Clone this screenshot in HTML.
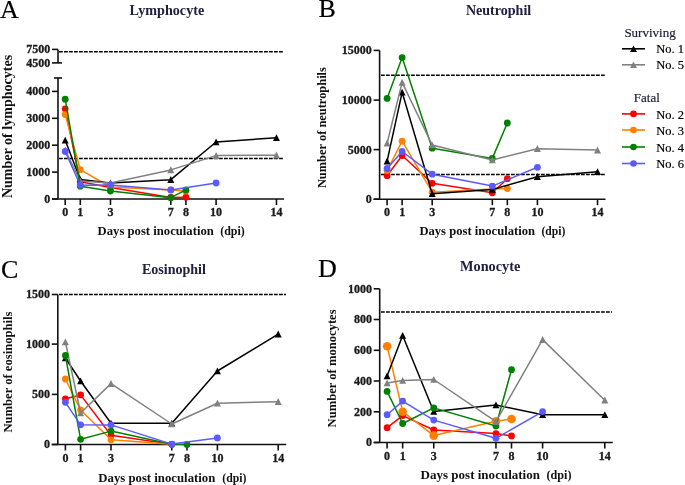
<!DOCTYPE html>
<html><head><meta charset="utf-8"><style>
html,body{margin:0;padding:0;background:#fff;width:685px;height:485px;overflow:hidden}
svg{display:block;will-change:transform}
.ax{stroke:#111;stroke-width:1.6;fill:none}
.da{stroke:#000;stroke-width:1.45;stroke-dasharray:3.8 1.2;fill:none}
.dl{stroke-width:1.5;stroke-linejoin:round}
text{font-family:"Liberation Serif",serif}
.tk{font-weight:bold;font-size:12px;fill:#1a1a1a;stroke:#1a1a1a;stroke-width:0.3px}
.ti{font-weight:bold;font-size:14px;fill:#202040}
.pl{font-size:26px;fill:#000;stroke:#000;stroke-width:0.2px}
.xl{font-weight:bold;font-size:13.3px;fill:#111}
.yl{font-weight:bold;font-size:12.6px;fill:#111}
.lg{font-size:12.5px;stroke-width:0.2px}
</style></head><body>
<svg width="685" height="485" viewBox="0 0 685 485">
<line x1="52" y1="199" x2="284" y2="199" class="ax"/>
<line x1="65.2" y1="199" x2="65.2" y2="205" class="ax"/>
<line x1="80.29" y1="199" x2="80.29" y2="205" class="ax"/>
<line x1="110.47" y1="199" x2="110.47" y2="205" class="ax"/>
<line x1="170.83" y1="199" x2="170.83" y2="205" class="ax"/>
<line x1="185.92" y1="199" x2="185.92" y2="205" class="ax"/>
<line x1="216.1" y1="199" x2="216.1" y2="205" class="ax"/>
<line x1="276.46" y1="199" x2="276.46" y2="205" class="ax"/>
<line x1="58" y1="78" x2="58" y2="199" class="ax"/>
<line x1="52" y1="199" x2="58" y2="199" class="ax"/>
<text x="50.2" y="202.9" class="tk" text-anchor="end">0</text>
<line x1="52" y1="172.1" x2="58" y2="172.1" class="ax"/>
<text x="50.2" y="176" class="tk" text-anchor="end">1000</text>
<line x1="52" y1="145.2" x2="58" y2="145.2" class="ax"/>
<text x="50.2" y="149.1" class="tk" text-anchor="end">2000</text>
<line x1="52" y1="118.3" x2="58" y2="118.3" class="ax"/>
<text x="50.2" y="122.2" class="tk" text-anchor="end">3000</text>
<line x1="52" y1="91.4" x2="58" y2="91.4" class="ax"/>
<text x="50.2" y="95.3" class="tk" text-anchor="end">4000</text>
<line x1="54" y1="78" x2="62" y2="78" class="ax"/>
<line x1="58" y1="49.4" x2="58" y2="62.9" class="ax"/>
<line x1="52" y1="49.4" x2="58" y2="49.4" class="ax"/>
<line x1="52" y1="62.9" x2="62" y2="62.9" class="ax"/>
<text x="50.2" y="53.3" class="tk" text-anchor="end">7500</text>
<text x="50.2" y="66.8" class="tk" text-anchor="end">4500</text>
<line x1="59" y1="51.7" x2="283" y2="51.7" class="da"/>
<line x1="59" y1="158.4" x2="283" y2="158.4" class="da"/>
<text x="65.2" y="215.7" class="tk" text-anchor="middle">0</text>
<text x="80.29" y="215.7" class="tk" text-anchor="middle">1</text>
<text x="110.47" y="215.7" class="tk" text-anchor="middle">3</text>
<text x="170.83" y="215.7" class="tk" text-anchor="middle">7</text>
<text x="185.92" y="215.7" class="tk" text-anchor="middle">8</text>
<text x="216.1" y="215.7" class="tk" text-anchor="middle">10</text>
<text x="276.46" y="215.7" class="tk" text-anchor="middle">14</text>
<polyline points="65.2,108.8 80.29,181.8 110.47,187.6 170.83,197.5 185.92,197.2" fill="none" stroke="#ff0000" class="dl"/>
<circle cx="65.2" cy="108.8" r="3.4" fill="#ff0000"/>
<circle cx="80.29" cy="181.8" r="3.4" fill="#ff0000"/>
<circle cx="110.47" cy="187.6" r="3.4" fill="#ff0000"/>
<circle cx="170.83" cy="197.5" r="3.4" fill="#ff0000"/>
<circle cx="185.92" cy="197.2" r="3.4" fill="#ff0000"/>
<polyline points="65.2,114.6 80.29,169.7 110.47,187 170.83,190 185.92,191" fill="none" stroke="#ff8000" class="dl"/>
<circle cx="65.2" cy="114.6" r="3.4" fill="#ff8000"/>
<circle cx="80.29" cy="169.7" r="3.4" fill="#ff8000"/>
<circle cx="110.47" cy="187" r="3.4" fill="#ff8000"/>
<circle cx="170.83" cy="190" r="3.4" fill="#ff8000"/>
<circle cx="185.92" cy="191" r="3.4" fill="#ff8000"/>
<polyline points="65.2,140.3 80.29,179.5 110.47,183 170.83,179.7 216.1,142 276.46,137.8" fill="none" stroke="#000000" class="dl"/>
<path d="M65.2 136.7L68.7 143.6L61.7 143.6Z" fill="#000000"/>
<path d="M80.29 175.9L83.79 182.8L76.79 182.8Z" fill="#000000"/>
<path d="M110.47 179.4L113.97 186.3L106.97 186.3Z" fill="#000000"/>
<path d="M170.83 176.1L174.33 183L167.33 183Z" fill="#000000"/>
<path d="M216.1 138.4L219.6 145.3L212.6 145.3Z" fill="#000000"/>
<path d="M276.46 134.2L279.96 141.1L272.96 141.1Z" fill="#000000"/>
<polyline points="65.2,150 80.29,181 110.47,183 170.83,169.9 216.1,155.6 276.46,155.2" fill="none" stroke="#808080" class="dl"/>
<path d="M65.2 146.4L68.7 153.3L61.7 153.3Z" fill="#808080"/>
<path d="M80.29 177.4L83.79 184.3L76.79 184.3Z" fill="#808080"/>
<path d="M110.47 179.4L113.97 186.3L106.97 186.3Z" fill="#808080"/>
<path d="M170.83 166.3L174.33 173.2L167.33 173.2Z" fill="#808080"/>
<path d="M216.1 152L219.6 158.9L212.6 158.9Z" fill="#808080"/>
<path d="M276.46 151.6L279.96 158.5L272.96 158.5Z" fill="#808080"/>
<polyline points="65.2,99.2 80.29,186.2 110.47,191 170.83,197.7 185.92,189.9" fill="none" stroke="#008000" class="dl"/>
<circle cx="65.2" cy="99.2" r="3.4" fill="#008000"/>
<circle cx="80.29" cy="186.2" r="3.4" fill="#008000"/>
<circle cx="110.47" cy="191" r="3.4" fill="#008000"/>
<circle cx="170.83" cy="197.7" r="3.4" fill="#008000"/>
<circle cx="185.92" cy="189.9" r="3.4" fill="#008000"/>
<polyline points="65.2,151.5 80.29,185.2 110.47,184.9 170.83,189.9 216.1,183" fill="none" stroke="#5a5aff" class="dl"/>
<circle cx="65.2" cy="151.5" r="3.4" fill="#5a5aff"/>
<circle cx="80.29" cy="185.2" r="3.4" fill="#5a5aff"/>
<circle cx="110.47" cy="184.9" r="3.4" fill="#5a5aff"/>
<circle cx="170.83" cy="189.9" r="3.4" fill="#5a5aff"/>
<circle cx="216.1" cy="183" r="3.4" fill="#5a5aff"/>
<text x="129.6" y="14.9" class="ti" textLength="74.6" lengthAdjust="spacingAndGlyphs">Lymphocyte</text>
<text x="0" y="17.6" class="pl">A</text>
<text x="97.6" y="234.6" class="xl" textLength="116.2" lengthAdjust="spacingAndGlyphs">Days post inoculation</text>
<text x="220.2" y="234.6" class="xl" textLength="24.5" lengthAdjust="spacingAndGlyphs">(dpi)</text>
<text transform="translate(11.9 198.1) rotate(-90)" class="yl" style="font-size:14px" textLength="143.3" lengthAdjust="spacingAndGlyphs">Number of lymphocytes</text>
<line x1="373.6" y1="199.2" x2="605.5" y2="199.2" class="ax"/>
<line x1="387.1" y1="199.2" x2="387.1" y2="205.2" class="ax"/>
<line x1="402.13" y1="199.2" x2="402.13" y2="205.2" class="ax"/>
<line x1="432.19" y1="199.2" x2="432.19" y2="205.2" class="ax"/>
<line x1="492.31" y1="199.2" x2="492.31" y2="205.2" class="ax"/>
<line x1="507.34" y1="199.2" x2="507.34" y2="205.2" class="ax"/>
<line x1="537.4" y1="199.2" x2="537.4" y2="205.2" class="ax"/>
<line x1="597.52" y1="199.2" x2="597.52" y2="205.2" class="ax"/>
<line x1="379.6" y1="50.4" x2="379.6" y2="199.2" class="ax"/>
<line x1="373.6" y1="199.2" x2="379.6" y2="199.2" class="ax"/>
<text x="371.8" y="203.1" class="tk" text-anchor="end">0</text>
<line x1="373.6" y1="149.6" x2="379.6" y2="149.6" class="ax"/>
<text x="371.8" y="153.5" class="tk" text-anchor="end">5000</text>
<line x1="373.6" y1="100.1" x2="379.6" y2="100.1" class="ax"/>
<text x="371.8" y="104" class="tk" text-anchor="end">10000</text>
<line x1="373.6" y1="50.4" x2="379.6" y2="50.4" class="ax"/>
<text x="371.8" y="54.3" class="tk" text-anchor="end">15000</text>
<line x1="381" y1="75.2" x2="606" y2="75.2" class="da"/>
<line x1="381" y1="174.5" x2="606" y2="174.5" class="da"/>
<text x="387.1" y="215.9" class="tk" text-anchor="middle">0</text>
<text x="402.13" y="215.9" class="tk" text-anchor="middle">1</text>
<text x="432.19" y="215.9" class="tk" text-anchor="middle">3</text>
<text x="492.31" y="215.9" class="tk" text-anchor="middle">7</text>
<text x="507.34" y="215.9" class="tk" text-anchor="middle">8</text>
<text x="537.4" y="215.9" class="tk" text-anchor="middle">10</text>
<text x="597.52" y="215.9" class="tk" text-anchor="middle">14</text>
<polyline points="387.1,175.7 402.13,155.5 432.19,183.3 492.31,192.8 507.34,178.7" fill="none" stroke="#ff0000" class="dl"/>
<circle cx="387.1" cy="175.7" r="3.4" fill="#ff0000"/>
<circle cx="402.13" cy="155.5" r="3.4" fill="#ff0000"/>
<circle cx="432.19" cy="183.3" r="3.4" fill="#ff0000"/>
<circle cx="492.31" cy="192.8" r="3.4" fill="#ff0000"/>
<circle cx="507.34" cy="178.7" r="3.4" fill="#ff0000"/>
<polyline points="387.1,170.5 402.13,141.2 432.19,192.2 492.31,189 507.34,188.5" fill="none" stroke="#ff8000" class="dl"/>
<circle cx="387.1" cy="170.5" r="3.4" fill="#ff8000"/>
<circle cx="402.13" cy="141.2" r="3.4" fill="#ff8000"/>
<circle cx="432.19" cy="192.2" r="3.4" fill="#ff8000"/>
<circle cx="492.31" cy="189" r="3.4" fill="#ff8000"/>
<circle cx="507.34" cy="188.5" r="3.4" fill="#ff8000"/>
<polyline points="387.1,161.2 402.13,92.3 432.19,193.7 492.31,189.5 537.4,176.7 597.52,171.8" fill="none" stroke="#000000" class="dl"/>
<path d="M387.1 157.6L390.6 164.5L383.6 164.5Z" fill="#000000"/>
<path d="M402.13 88.7L405.63 95.6L398.63 95.6Z" fill="#000000"/>
<path d="M432.19 190.1L435.69 197L428.69 197Z" fill="#000000"/>
<path d="M492.31 185.9L495.81 192.8L488.81 192.8Z" fill="#000000"/>
<path d="M537.4 173.1L540.9 180L533.9 180Z" fill="#000000"/>
<path d="M597.52 168.2L601.02 175.1L594.02 175.1Z" fill="#000000"/>
<polyline points="387.1,98.4 402.13,57.6 432.19,148.2 492.31,158.4 507.34,123" fill="none" stroke="#008000" class="dl"/>
<circle cx="387.1" cy="98.4" r="3.4" fill="#008000"/>
<circle cx="402.13" cy="57.6" r="3.4" fill="#008000"/>
<circle cx="432.19" cy="148.2" r="3.4" fill="#008000"/>
<circle cx="492.31" cy="158.4" r="3.4" fill="#008000"/>
<circle cx="507.34" cy="123" r="3.4" fill="#008000"/>
<polyline points="387.1,143.2 402.13,82.4 432.19,145 492.31,160 537.4,148.7 597.52,150.1" fill="none" stroke="#808080" class="dl"/>
<path d="M387.1 139.6L390.6 146.5L383.6 146.5Z" fill="#808080"/>
<path d="M402.13 78.8L405.63 85.7L398.63 85.7Z" fill="#808080"/>
<path d="M432.19 141.4L435.69 148.3L428.69 148.3Z" fill="#808080"/>
<path d="M492.31 156.4L495.81 163.3L488.81 163.3Z" fill="#808080"/>
<path d="M537.4 145.1L540.9 152L533.9 152Z" fill="#808080"/>
<path d="M597.52 146.5L601.02 153.4L594.02 153.4Z" fill="#808080"/>
<polyline points="387.1,168.5 402.13,151.5 432.19,174.2 492.31,186.1 537.4,167.3" fill="none" stroke="#5a5aff" class="dl"/>
<circle cx="387.1" cy="168.5" r="3.4" fill="#5a5aff"/>
<circle cx="402.13" cy="151.5" r="3.4" fill="#5a5aff"/>
<circle cx="432.19" cy="174.2" r="3.4" fill="#5a5aff"/>
<circle cx="492.31" cy="186.1" r="3.4" fill="#5a5aff"/>
<circle cx="537.4" cy="167.3" r="3.4" fill="#5a5aff"/>
<text x="465.9" y="14.9" class="ti" textLength="65.3" lengthAdjust="spacingAndGlyphs">Neutrophil</text>
<text x="318.6" y="17" class="pl">B</text>
<text x="419.4" y="235.1" class="xl" textLength="115.6" lengthAdjust="spacingAndGlyphs">Days post inoculation</text>
<text x="541.4" y="235.1" class="xl" textLength="23.9" lengthAdjust="spacingAndGlyphs">(dpi)</text>
<text transform="translate(326.3 188.1) rotate(-90)" class="yl" style="font-size:12.6px" textLength="121" lengthAdjust="spacingAndGlyphs">Number of neutrophils</text>
<line x1="51.8" y1="444.5" x2="286.2" y2="444.5" class="ax"/>
<line x1="65.4" y1="444.5" x2="65.4" y2="450.5" class="ax"/>
<line x1="80.6" y1="444.5" x2="80.6" y2="450.5" class="ax"/>
<line x1="111" y1="444.5" x2="111" y2="450.5" class="ax"/>
<line x1="171.8" y1="444.5" x2="171.8" y2="450.5" class="ax"/>
<line x1="187" y1="444.5" x2="187" y2="450.5" class="ax"/>
<line x1="217.4" y1="444.5" x2="217.4" y2="450.5" class="ax"/>
<line x1="278.2" y1="444.5" x2="278.2" y2="450.5" class="ax"/>
<line x1="57.8" y1="294.5" x2="57.8" y2="444.5" class="ax"/>
<line x1="51.8" y1="444.5" x2="57.8" y2="444.5" class="ax"/>
<text x="50" y="448.4" class="tk" text-anchor="end">0</text>
<line x1="51.8" y1="394.4" x2="57.8" y2="394.4" class="ax"/>
<text x="50" y="398.3" class="tk" text-anchor="end">500</text>
<line x1="51.8" y1="344.1" x2="57.8" y2="344.1" class="ax"/>
<text x="50" y="348" class="tk" text-anchor="end">1000</text>
<line x1="51.8" y1="294.5" x2="57.8" y2="294.5" class="ax"/>
<text x="50" y="298.4" class="tk" text-anchor="end">1500</text>
<line x1="59" y1="294.5" x2="286" y2="294.5" class="da"/>
<text x="65.4" y="461.8" class="tk" text-anchor="middle">0</text>
<text x="80.6" y="461.8" class="tk" text-anchor="middle">1</text>
<text x="111" y="461.8" class="tk" text-anchor="middle">3</text>
<text x="171.8" y="461.8" class="tk" text-anchor="middle">7</text>
<text x="187" y="461.8" class="tk" text-anchor="middle">8</text>
<text x="217.4" y="461.8" class="tk" text-anchor="middle">10</text>
<text x="278.2" y="461.8" class="tk" text-anchor="middle">14</text>
<polyline points="65.4,398.8 80.6,394.9 111,435.2 171.8,444.3" fill="none" stroke="#ff0000" class="dl"/>
<circle cx="65.4" cy="398.8" r="3.4" fill="#ff0000"/>
<circle cx="80.6" cy="394.9" r="3.4" fill="#ff0000"/>
<circle cx="111" cy="435.2" r="3.4" fill="#ff0000"/>
<circle cx="171.8" cy="444.3" r="3.4" fill="#ff0000"/>
<polyline points="65.4,379 80.6,410 111,439.8 171.8,444.3" fill="none" stroke="#ff8000" class="dl"/>
<circle cx="65.4" cy="379" r="3.4" fill="#ff8000"/>
<circle cx="80.6" cy="410" r="3.4" fill="#ff8000"/>
<circle cx="111" cy="439.8" r="3.4" fill="#ff8000"/>
<circle cx="171.8" cy="444.3" r="3.4" fill="#ff8000"/>
<polyline points="65.4,358 80.6,381 111,423.3 171.8,423.3 217.4,371 278.2,334.1" fill="none" stroke="#000000" class="dl"/>
<path d="M65.4 354.4L68.9 361.3L61.9 361.3Z" fill="#000000"/>
<path d="M80.6 377.4L84.1 384.3L77.1 384.3Z" fill="#000000"/>
<path d="M111 419.7L114.5 426.6L107.5 426.6Z" fill="#000000"/>
<path d="M171.8 419.7L175.3 426.6L168.3 426.6Z" fill="#000000"/>
<path d="M217.4 367.4L220.9 374.3L213.9 374.3Z" fill="#000000"/>
<path d="M278.2 330.5L281.7 337.4L274.7 337.4Z" fill="#000000"/>
<polyline points="65.4,342 80.6,413 111,383.6 171.8,424 217.4,403.3 278.2,401.7" fill="none" stroke="#808080" class="dl"/>
<path d="M65.4 338.4L68.9 345.3L61.9 345.3Z" fill="#808080"/>
<path d="M80.6 409.4L84.1 416.3L77.1 416.3Z" fill="#808080"/>
<path d="M111 380L114.5 386.9L107.5 386.9Z" fill="#808080"/>
<path d="M171.8 420.4L175.3 427.3L168.3 427.3Z" fill="#808080"/>
<path d="M217.4 399.7L220.9 406.6L213.9 406.6Z" fill="#808080"/>
<path d="M278.2 398.1L281.7 405L274.7 405Z" fill="#808080"/>
<polyline points="65.4,355.5 80.6,439.3 111,431.1 171.8,444.3 187,444.5" fill="none" stroke="#008000" class="dl"/>
<circle cx="65.4" cy="355.5" r="3.4" fill="#008000"/>
<circle cx="80.6" cy="439.3" r="3.4" fill="#008000"/>
<circle cx="111" cy="431.1" r="3.4" fill="#008000"/>
<circle cx="171.8" cy="444.3" r="3.4" fill="#008000"/>
<circle cx="187" cy="444.5" r="3.4" fill="#008000"/>
<polyline points="65.4,402.3 80.6,424.8 111,424.9 171.8,444.1 217.4,437.9" fill="none" stroke="#5a5aff" class="dl"/>
<circle cx="65.4" cy="402.3" r="3.4" fill="#5a5aff"/>
<circle cx="80.6" cy="424.8" r="3.4" fill="#5a5aff"/>
<circle cx="111" cy="424.9" r="3.4" fill="#5a5aff"/>
<circle cx="171.8" cy="444.1" r="3.4" fill="#5a5aff"/>
<circle cx="217.4" cy="437.9" r="3.4" fill="#5a5aff"/>
<text x="141.9" y="274.3" class="ti" textLength="64" lengthAdjust="spacingAndGlyphs">Eosinophil</text>
<text x="1" y="277.6" class="pl">C</text>
<text x="98.3" y="481.6" class="xl" textLength="117" lengthAdjust="spacingAndGlyphs">Days post inoculation</text>
<text x="222.3" y="481.6" class="xl" textLength="24.2" lengthAdjust="spacingAndGlyphs">(dpi)</text>
<text transform="translate(12.2 432.6) rotate(-90)" class="yl" style="font-size:12.6px" textLength="121" lengthAdjust="spacingAndGlyphs">Number of eosinophils</text>
<line x1="373.7" y1="442.5" x2="612.8" y2="442.5" class="ax"/>
<line x1="387.1" y1="442.5" x2="387.1" y2="448.5" class="ax"/>
<line x1="402.65" y1="442.5" x2="402.65" y2="448.5" class="ax"/>
<line x1="433.75" y1="442.5" x2="433.75" y2="448.5" class="ax"/>
<line x1="495.95" y1="442.5" x2="495.95" y2="448.5" class="ax"/>
<line x1="511.5" y1="442.5" x2="511.5" y2="448.5" class="ax"/>
<line x1="542.6" y1="442.5" x2="542.6" y2="448.5" class="ax"/>
<line x1="604.8" y1="442.5" x2="604.8" y2="448.5" class="ax"/>
<line x1="379.7" y1="288.8" x2="379.7" y2="442.5" class="ax"/>
<line x1="373.7" y1="442.5" x2="379.7" y2="442.5" class="ax"/>
<text x="371.9" y="446.4" class="tk" text-anchor="end">0</text>
<line x1="373.7" y1="411.8" x2="379.7" y2="411.8" class="ax"/>
<text x="371.9" y="415.7" class="tk" text-anchor="end">200</text>
<line x1="373.7" y1="381" x2="379.7" y2="381" class="ax"/>
<text x="371.9" y="384.9" class="tk" text-anchor="end">400</text>
<line x1="373.7" y1="350.3" x2="379.7" y2="350.3" class="ax"/>
<text x="371.9" y="354.2" class="tk" text-anchor="end">600</text>
<line x1="373.7" y1="319.5" x2="379.7" y2="319.5" class="ax"/>
<text x="371.9" y="323.4" class="tk" text-anchor="end">800</text>
<line x1="373.7" y1="288.8" x2="379.7" y2="288.8" class="ax"/>
<text x="371.9" y="292.7" class="tk" text-anchor="end">1000</text>
<line x1="381" y1="311.9" x2="612" y2="311.9" class="da"/>
<text x="387.1" y="459.5" class="tk" text-anchor="middle">0</text>
<text x="402.65" y="459.5" class="tk" text-anchor="middle">1</text>
<text x="433.75" y="459.5" class="tk" text-anchor="middle">3</text>
<text x="495.95" y="459.5" class="tk" text-anchor="middle">7</text>
<text x="511.5" y="459.5" class="tk" text-anchor="middle">8</text>
<text x="542.6" y="459.5" class="tk" text-anchor="middle">10</text>
<text x="604.8" y="459.5" class="tk" text-anchor="middle">14</text>
<polyline points="387.1,427.7 402.65,415.6 433.75,430 495.95,433.6 511.5,435.9" fill="none" stroke="#ff0000" class="dl"/>
<circle cx="387.1" cy="427.7" r="3.4" fill="#ff0000"/>
<circle cx="402.65" cy="415.6" r="3.4" fill="#ff0000"/>
<circle cx="433.75" cy="430" r="3.4" fill="#ff0000"/>
<circle cx="495.95" cy="433.6" r="3.4" fill="#ff0000"/>
<circle cx="511.5" cy="435.9" r="3.4" fill="#ff0000"/>
<polyline points="387.1,346.2 402.65,411.7 433.75,435.6 495.95,421.2 511.5,419" fill="none" stroke="#ff8000" class="dl"/>
<circle cx="387.1" cy="346.2" r="4.3" fill="#ff8000"/>
<circle cx="402.65" cy="411.7" r="4.3" fill="#ff8000"/>
<circle cx="433.75" cy="435.6" r="4.3" fill="#ff8000"/>
<circle cx="495.95" cy="421.2" r="4.3" fill="#ff8000"/>
<circle cx="511.5" cy="419" r="4.3" fill="#ff8000"/>
<polyline points="387.1,376 402.65,335.5 433.75,411.5 495.95,405 542.6,414.8 604.8,414.8" fill="none" stroke="#000000" class="dl"/>
<path d="M387.1 372.4L390.6 379.3L383.6 379.3Z" fill="#000000"/>
<path d="M402.65 331.9L406.15 338.8L399.15 338.8Z" fill="#000000"/>
<path d="M433.75 407.9L437.25 414.8L430.25 414.8Z" fill="#000000"/>
<path d="M495.95 401.4L499.45 408.3L492.45 408.3Z" fill="#000000"/>
<path d="M542.6 411.2L546.1 418.1L539.1 418.1Z" fill="#000000"/>
<path d="M604.8 411.2L608.3 418.1L601.3 418.1Z" fill="#000000"/>
<polyline points="387.1,391.4 402.65,423.5 433.75,407.9 495.95,426 511.5,369.7" fill="none" stroke="#008000" class="dl"/>
<circle cx="387.1" cy="391.4" r="3.4" fill="#008000"/>
<circle cx="402.65" cy="423.5" r="3.4" fill="#008000"/>
<circle cx="433.75" cy="407.9" r="3.4" fill="#008000"/>
<circle cx="495.95" cy="426" r="3.4" fill="#008000"/>
<circle cx="511.5" cy="369.7" r="3.4" fill="#008000"/>
<polyline points="387.1,383 402.65,380.5 433.75,379.5 495.95,421.7 542.6,339.6 604.8,400.2" fill="none" stroke="#808080" class="dl"/>
<path d="M387.1 379.4L390.6 386.3L383.6 386.3Z" fill="#808080"/>
<path d="M402.65 376.9L406.15 383.8L399.15 383.8Z" fill="#808080"/>
<path d="M433.75 375.9L437.25 382.8L430.25 382.8Z" fill="#808080"/>
<path d="M495.95 418.1L499.45 425L492.45 425Z" fill="#808080"/>
<path d="M542.6 336L546.1 342.9L539.1 342.9Z" fill="#808080"/>
<path d="M604.8 396.6L608.3 403.5L601.3 403.5Z" fill="#808080"/>
<polyline points="387.1,414.7 402.65,401.1 433.75,420.1 495.95,438.3 542.6,411.6" fill="none" stroke="#5a5aff" class="dl"/>
<circle cx="387.1" cy="414.7" r="3.4" fill="#5a5aff"/>
<circle cx="402.65" cy="401.1" r="3.4" fill="#5a5aff"/>
<circle cx="433.75" cy="420.1" r="3.4" fill="#5a5aff"/>
<circle cx="495.95" cy="438.3" r="3.4" fill="#5a5aff"/>
<circle cx="542.6" cy="411.6" r="3.4" fill="#5a5aff"/>
<text x="460.1" y="271.1" class="ti" textLength="60.2" lengthAdjust="spacingAndGlyphs">Monocyte</text>
<text x="318" y="277" class="pl">D</text>
<text x="420.6" y="478.8" class="xl" textLength="119.4" lengthAdjust="spacingAndGlyphs">Days post inoculation</text>
<text x="546.4" y="478.8" class="xl" textLength="25.1" lengthAdjust="spacingAndGlyphs">(dpi)</text>
<text transform="translate(335.8 427.4) rotate(-90)" class="yl" style="font-size:12.6px" textLength="118" lengthAdjust="spacingAndGlyphs">Number of monocytes</text>
<text x="624.4" y="36.7" class="lg" style="font-size:13px" fill="#202040" stroke="#202040">Surviving</text>
<text x="633.8" y="102.4" class="lg" style="font-size:13px" fill="#202040" stroke="#202040">Fatal</text>
<line x1="622" y1="48.8" x2="645" y2="48.8" stroke="#000000" stroke-width="1.6"/>
<path d="M633.5 45.4L637 51.9L630 51.9Z" fill="#000000"/>
<text x="656.2" y="53.4" class="lg" fill="#000" stroke="#000">No. 1</text>
<line x1="622" y1="64.8" x2="645" y2="64.8" stroke="#808080" stroke-width="1.6"/>
<path d="M633.5 61.4L637 67.9L630 67.9Z" fill="#808080"/>
<text x="656.2" y="69.4" class="lg" fill="#000" stroke="#000">No. 5</text>
<line x1="622" y1="113.9" x2="645" y2="113.9" stroke="#ff0000" stroke-width="1.6"/>
<circle cx="633.5" cy="113.9" r="3.3" fill="#ff0000"/>
<text x="656.2" y="118.5" class="lg" fill="#000" stroke="#000">No. 2</text>
<line x1="622" y1="130" x2="645" y2="130" stroke="#ff8000" stroke-width="1.6"/>
<circle cx="633.5" cy="130" r="3.3" fill="#ff8000"/>
<text x="656.2" y="134.6" class="lg" fill="#000" stroke="#000">No. 3</text>
<line x1="622" y1="147" x2="645" y2="147" stroke="#008000" stroke-width="1.6"/>
<circle cx="633.5" cy="147" r="3.3" fill="#008000"/>
<text x="656.2" y="151.6" class="lg" fill="#000" stroke="#000">No. 4</text>
<line x1="622" y1="163.5" x2="645" y2="163.5" stroke="#5a5aff" stroke-width="1.6"/>
<circle cx="633.5" cy="163.5" r="3.3" fill="#5a5aff"/>
<text x="656.2" y="168.1" class="lg" fill="#000" stroke="#000">No. 6</text>
</svg>
</body></html>
